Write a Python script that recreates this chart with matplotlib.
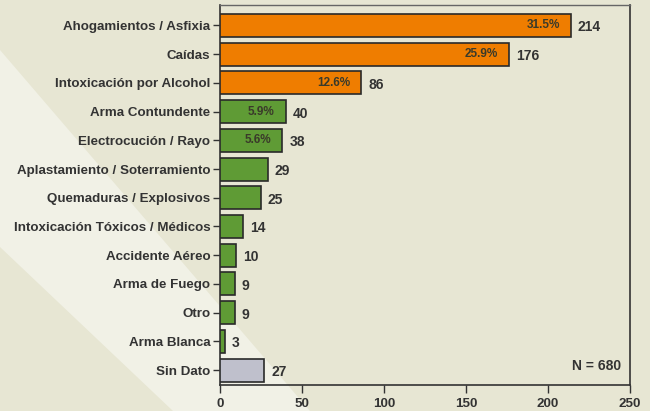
import matplotlib
matplotlib.use("Agg")
import matplotlib.pyplot as plt
from matplotlib.patches import Polygon
from matplotlib.transforms import offset_copy

categories = ["Ahogamientos / Asfixia", "Caídas", "Intoxicación por Alcohol",
              "Arma Contundente", "Electrocución / Rayo", "Aplastamiento / Soterramiento",
              "Quemaduras / Explosivos", "Intoxicación Tóxicos / Médicos", "Accidente Aéreo",
              "Arma de Fuego", "Otro", "Arma Blanca", "Sin Dato"]
values = [214, 176, 86, 40, 38, 29, 25, 14, 10, 9, 9, 3, 27]
percents = ["31.5%", "25.9%", "12.6%", "5.9%", "5.6%", None, None, None, None, None, None, None, None]
groups = ["top", "top", "top", "mid", "mid", "mid", "mid", "mid", "mid", "mid", "mid", "mid", "none"]
xticks = [0, 50, 100, 150, 200, 250]
total_label = "N = 680"

group_colors = {"top": "#EF7D00", "mid": "#5F9B35", "none": "#BFC0CC"}
txt = "#333333"

plt.rcParams['font.family'] = ['Liberation Sans', 'DejaVu Sans']
plt.rcParams['font.weight'] = 'bold'

W, H = 650, 411
fig = plt.figure(figsize=(6.5, 4.11), dpi=100)
fig.patch.set_facecolor("#E7E6D3")

def fx(x):
    return x / W
def fy(y):
    return 1 - y / H

band = Polygon([(fx(0), fy(50)), (fx(310), fy(411)), (fx(173), fy(411)), (fx(0), fy(247))],
               closed=True, transform=fig.transFigure, facecolor="#F1F1E6", edgecolor="none")
band.set_zorder(-5)
fig.add_artist(band)

ax = fig.add_axes([220 / W, 1 - 385 / H, 410 / W, 380 / H])
ax.set_zorder(2)
ax.set_facecolor("none")

ypos = list(range(len(categories)))
colors = [group_colors[g] for g in groups]
ax.barh(ypos, values, height=0.8, color=colors, edgecolor="#2A2A2A", linewidth=1.2, zorder=3)

ax.set_xlim(0, 250)
ax.set_ylim(12.52, -0.713)
ax.set_yticks(ypos)
ax.set_yticklabels(categories, fontsize=9.6, fontweight='bold', color=txt)
ax.set_xticks(xticks)
ax.set_xticklabels([str(t) for t in xticks], fontsize=9.6, fontweight='bold', color=txt)
ax.tick_params(axis='y', length=5, width=1, color="#333333", pad=2)
ax.tick_params(axis='x', length=6, width=1, color="#333333", pad=3)

for s in ["left", "bottom", "right"]:
    ax.spines[s].set_color("#333333")
    ax.spines[s].set_linewidth(1.2)
ax.spines["top"].set_color("#666666")
ax.spines["top"].set_linewidth(1.0)

for i, (v, p) in enumerate(zip(values, percents)):
    tr = offset_copy(ax.transData, fig=fig, x=7, y=-2, units='dots')
    ax.text(v, i, str(v), transform=tr, ha='left', va='center', fontsize=10,
            fontweight='bold', color=txt, zorder=4)
    if p:
        tr2 = offset_copy(ax.transData, fig=fig, x=-11, y=0, units='dots')
        ax.text(v, i, p, transform=tr2, ha='right', va='center', fontsize=8.5,
                fontweight='bold', color="#3A3A2A", zorder=4)

ax.text(0.978, 0.05, total_label, transform=ax.transAxes, ha='right', va='center',
        fontsize=10, fontweight='bold', color=txt)

fig.savefig("out.png", dpi=100, facecolor=fig.get_facecolor())
